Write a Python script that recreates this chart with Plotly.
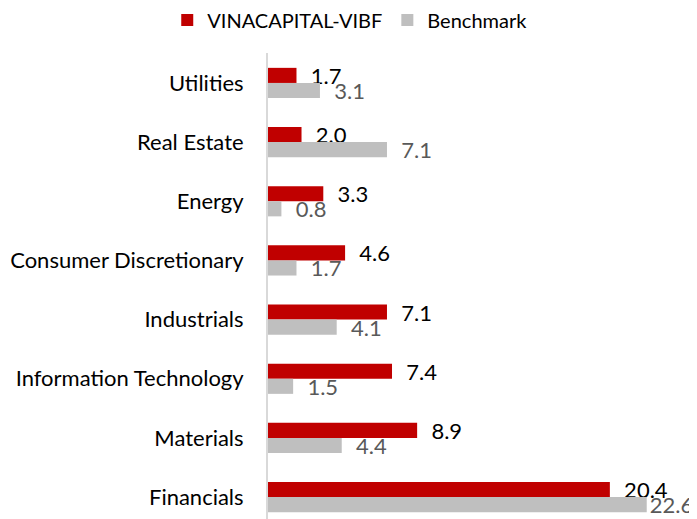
import plotly.graph_objects as go

categories = ["Utilities", "Real Estate", "Energy", "Consumer Discretionary",
              "Industrials", "Information Technology", "Materials", "Financials"]
fund_values = [1.7, 2.0, 3.3, 4.6, 7.1, 7.4, 8.9, 20.4]
bench_values = [3.1, 7.1, 0.8, 1.7, 4.1, 1.5, 4.4, 22.6]
series_names = ["VINACAPITAL-VIBF", "Benchmark"]

FONT = "Lato, Carlito, Calibri, sans-serif"
FS = 22
PAD = "\u00a0\u00a0"
overall_max = max(fund_values + bench_values)

def labels(vals):
    # the largest label sits tight against its bar (near the chart's edge)
    return [(("" if v == overall_max else PAD) + f"{v:.1f}") for v in vals]

fig = go.Figure()
fig.add_trace(go.Bar(
    y=categories, x=fund_values, orientation="h", name=series_names[0],
    marker=dict(color="#C00000", line=dict(width=0)),
    text=labels(fund_values), textposition="outside", cliponaxis=False,
    constraintext="none",
    textfont=dict(family=FONT, size=FS, color="#000000"),
))
fig.add_trace(go.Bar(
    y=categories, x=bench_values, orientation="h", name=series_names[1],
    marker=dict(color="#BFBFBF", line=dict(width=0)),
    text=labels(bench_values), textposition="outside", cliponaxis=False,
    constraintext="none",
    textfont=dict(family=FONT, size=FS, color="#595959"),
))

# page body has an 8px default margin; figure sized to fill the rest
fig.update_layout(
    width=689, height=511,
    margin=dict(l=260, r=0, t=45, b=0, autoexpand=False),
    paper_bgcolor="white", plot_bgcolor="white",
    barmode="group", bargap=0.49, bargroupgap=0,
    font=dict(family=FONT, size=FS, color="#000000"),
    showlegend=True,
    legend=dict(orientation="h", xref="container", yref="container",
                x=0.496, xanchor="center", y=0.9765, yanchor="middle",
                font=dict(family=FONT, size=20, color="#000000"),
                itemwidth=30, tracegroupgap=0),
    xaxis=dict(range=[0, 25.6], showgrid=False, showticklabels=False,
               zeroline=False, showline=False, ticks=""),
    yaxis=dict(range=[7.37, -0.506], showgrid=False, zeroline=False,
               showline=True, linecolor="#D9D9D9", linewidth=2,
               ticks="", ticklabelstandoff=18,
               tickfont=dict(family=FONT, size=FS, color="#000000")),
)

fig.write_html("out.html")
